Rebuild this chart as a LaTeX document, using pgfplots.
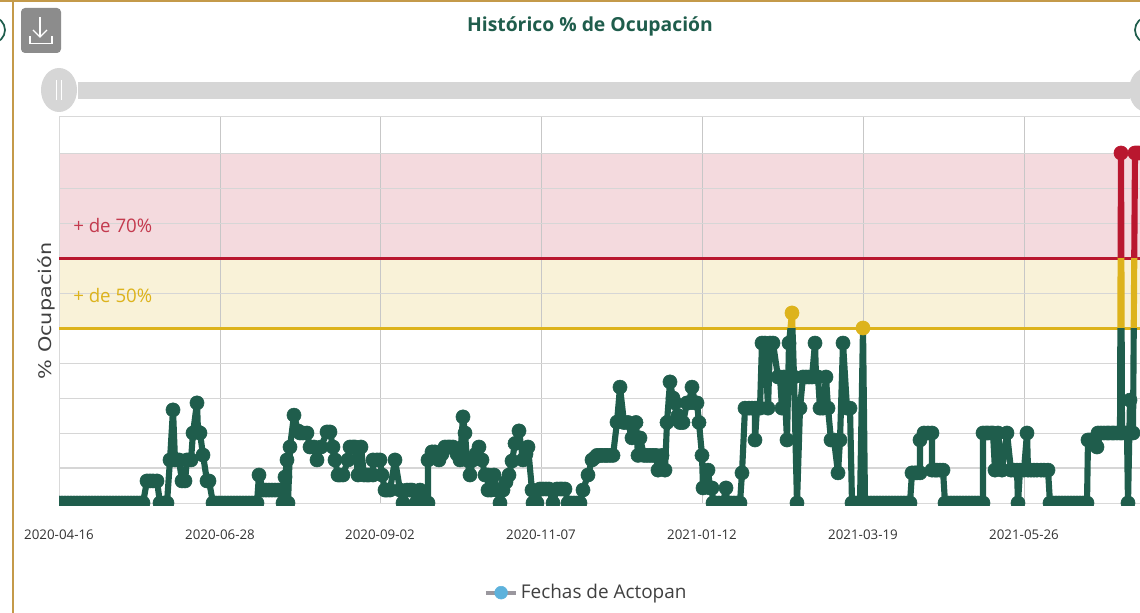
\documentclass[border=0pt]{standalone}
\usepackage{pgfplots}
\usepackage{pgfplotstable}
\usepackage{fontspec}
\setmainfont{Open Sans}
\newfontfamily\ylabfont{DejaVu Sans}
\pgfplotsset{compat=1.18}
\definecolor{dgreen}{HTML}{1F5D4C}
\definecolor{dred}{HTML}{B9172F}
\definecolor{dyel}{HTML}{DDB31C}
\definecolor{gold}{HTML}{C49A4A}
\definecolor{slider}{HTML}{D6D6D6}
\definecolor{legblue}{HTML}{5DB2DC}
\definecolor{leggrey}{HTML}{9A979E}
\pgfplotstableread{
x y
0 0
3 0
6 0
9 0
12 0
15 0
18 0
21 0
24 0
27 0
30 0
33 0
36 0
39 0
42 0
45 0
48 0
51 0
54 0
57 0
60 0
63 0
66 0
69 0
72 0
75 0
78 0
81 0
84 0
88 6.3
91 6.3
94 6.3
98 6.3
101 0
105 0
108 0
111 12.3
114 26.6
116 12.3
120 12.3
123 6.3
126 6.3
128 12.3
132 12.3
134 20
138 28.6
139 20.3
141 20
144 13.7
148 6.3
150 6.3
154 0
157 0
160 0
163 0
166 0
169 0
172 0
175 0
178 0
181 0
184 0
187 0
190 0
193 0
196 0
198 0
200 8
204 3.7
207 3.7
210 3.7
213 3.7
216 3.7
219 3.7
221 3.7
224 0
226 7.4
228 12.3
229 0
231 16
235 25.1
239 20.6
241 20
244 20
248 20
251 16
255 16
258 12.3
262 16
268 20.3
271 20.3
274 16
276 12.3
279 8
281 8
284 8
289 12.3
291 16
294 16
296 16
299 8
302 16
305 8
308 8
310 8
314 8
314 12.3
318 12.3
321 12.3
323 8
326 3.7
328 3.7
331 3.7
336 12.3
341 3.7
344 0
348 3.7
351 3.7
353 3.7
357 0
361 3.7
365 0
369 0
369 12.3
373 14.6
376 14.6
380 12.3
383 14
386 16
389 16
391 16
394 16
398 14
401 12.3
404 24.6
406 20
408 12.3
411 8
414 12.3
417 14
420 16
423 12.3
426 8
429 8
429 3.7
432 3.7
435 8
438 3.7
440 3.7
441 0
444 3.7
447 6
450 8
453 12
456 17
460 20.6
464 12.3
467 14
469 16
473 3.7
474 0
476 0
478 0
481 4
484 4
487 4
490 4
494 0
498 4
501 4
503 4
506 4
509 0
512 0
515 0
518 0
521 0
524 3.7
529 8
533 12.3
536 13
538 13.6
541 13.6
543 13.6
546 13.6
548 13.6
551 13.6
554 13.6
558 23.1
561 33.1
565 23
569 23
573 18.6
577 23
579 13.6
581 18.6
585 13.6
588 13.6
591 13.6
594 13.6
597 13.6
599 9.4
603 13.6
606 9.4
608 23
611 34.6
614 30
616 28.6
619 25
621 23
624 23
628 28.6
630 28.6
633 33.1
636 28.6
638 28.6
640 23
643 13.6
644 4.3
649 9.4
651 4.3
653 4.3
654 0
657 0
660 0
664 0
667 4.3
668 0
672 0
675 0
678 0
681 0
683 8.6
686 27.1
690 27.1
693 27.1
696 27.1
696 18
698 27.1
701 27.1
703 45.7
706 45.7
709 27.1
711 45.7
714 45.7
719 36
721 36
723 27.1
725 36
728 18
730 45.7
733 54.3
735 36
738 0
741 27.1
744 36
747 36
750 36
753 36
756 45.7
757 36
759 36
761 27.1
764 27.1
767 36
769 27.1
772 18
775 18
779 8.6
781 18
784 45.7
788 27.1
791 27.1
793 0
797 0
801 0
804 50
806 0
809 0
812 0
815 0
818 0
821 0
824 0
827 0
830 0
833 0
836 0
839 0
842 0
845 0
848 0
851 0
853 8.6
856 8.6
858 8.6
861 8.6
861 18
865 20
869 20
873 20
873 9.4
876 9.4
878 9.4
881 9.4
884 9.4
886 0
889 0
892 0
895 0
898 0
901 0
904 0
907 0
910 0
913 0
916 0
919 0
922 0
924 0
924 20
927 20
929 20
932 20
934 20
936 9.4
939 20
943 9.4
948 20
952 9.4
955 9.4
958 9.4
959 0
961 9.4
965 9.4
968 20
969 9.4
972 9.4
975 9.4
978 9.4
982 9.4
985 9.4
989 9.4
991 0
994 0
997 0
1000 0
1003 0
1006 0
1009 0
1012 0
1015 0
1018 0
1021 0
1024 0
1028 0
1029 18
1031 18
1033 18
1036 17
1038 16
1039 20
1042 20
1045 20
1048 20
1050 20
1053 20
1055 20
1058 20
1061 20
1062 100
1063 20
1066 20
1068 20
1069 0
1071 29.4
1074 20
1076 100
1078 100
1080 100
1085 100
}\datatable
\pgfplotsset{
  base/.style={scale only axis,width=810.75pt,xmin=0,xmax=1081},
  lineax/.style={base,hide axis,clip=true},
  ser/.style={line width=4.6pt,line join=round,no marks},
}
\begin{document}
\begin{tikzpicture}
\path[use as bounding box] (0,0) rectangle (855pt,-459.75pt);
\begin{scope}[x=0.75pt,y=-0.75pt]
  \fill[white] (0,0) rectangle (1140,613);
  \draw[gold,line width=1.9pt] (0,0.5) -- (1140,0.5);
  \draw[gold,line width=1.9pt] (13,0) -- (13,613);
  \draw[dgreen,line width=1.3pt] (-8,30) circle (13);
  \draw[dgreen,line width=1.3pt] (1148,30) circle (13);
  \fill[black!45,rounded corners=3pt] (21,8) rectangle (61,53);
  \draw[white,line width=1pt] (30,36) -- (30,43.5) -- (52,43.5) -- (52,36);
  \draw[white,line width=1pt] (40,17) -- (40,37);
  \draw[white,line width=1pt] (33,30) -- (40,37) -- (47,30);
  \fill[slider] (78,82) rectangle (1130,99);
  \fill[slider] (59,90) ellipse (18 and 22);
  \fill[slider] (1147,90) ellipse (18 and 22);
  \draw[white,line width=.6pt] (56,80) -- (56,100);
  \draw[white,line width=.6pt] (61,80) -- (61,100);
  \fill[dred!16!white] (59,153) rectangle (1140,258);
  \fill[dyel!17!white] (59,258) rectangle (1140,328);
  \node[text=dgreen,anchor=center,font=\bfseries\fontsize{14.5pt}{16pt}\selectfont] at (590,26) {Histórico \% de Ocupación};
  \node[text=black!75,rotate=90,xscale=1.2,anchor=center,font=\ylabfont\fontsize{13pt}{15pt}\selectfont] at (46,311) {\% Ocupación};
\end{scope}
% main axis: grid, thresholds, tick labels, legend
\begin{axis}[base,at={(44.25pt,-377.25pt)},anchor=south west,
  height=289.875pt,ymin=0,ymax=110.5,
  axis line style={draw=black!15,line width=.6pt},
  axis x line*=bottom,axis y line*=left,
  ytick={10,20,...,100},yticklabels={},
  xtick={0,161,321,482,643,804,965},
  xticklabels={2020-04-16,2020-06-28,2020-09-02,2020-11-07,2021-01-12,2021-03-19,2021-05-26},
  tick style={draw=none},
  grid=major,
  x grid style={black!22,line width=.6pt},
  y grid style={black!16,line width=.8pt},
  xticklabel style={font=\fontsize{10pt}{12pt}\selectfont,text=black!80,yshift=-16.5pt},
  legend style={at={(0.488,-0.232)},anchor=center,draw=none,fill=none,
    font=\fontsize{14.2pt}{16pt}\selectfont,text=black!75},
  legend image code/.code={
    \draw[#1,line width=3pt,mark=none] (0cm,0cm) -- (0.8cm,0cm);
    \fill[legblue] (0.4cm,0cm) circle (4.8pt);
  },
]
\addlegendimage{color=leggrey}
\addlegendentry{Fechas de Actopan}
\addplot[dred,line width=2.2pt,forget plot] coordinates {(0,70) (1081,70)};
\addplot[dyel,line width=2.2pt,forget plot] coordinates {(0,50) (1081,50)};
\end{axis}
\draw[black!15,line width=.6pt] (44.25pt,-87pt) -- (855pt,-87pt);
% green part of the line
\begin{axis}[lineax,at={(44.25pt,-378.825pt)},anchor=south west,height=132.825pt,ymin=-0.6,ymax=50]
\addplot[ser,dgreen] table[x=x,y=y] {\datatable};
\end{axis}
% yellow part of the line
\begin{axis}[lineax,at={(44.25pt,-246pt)},anchor=south west,height=52.5pt,ymin=50,ymax=70]
\addplot[ser,dyel] table[x=x,y=y] {\datatable};
\end{axis}
% red part of the line
\begin{axis}[lineax,at={(44.25pt,-193.5pt)},anchor=south west,height=106.3125pt,ymin=70,ymax=110.5]
\addplot[ser,dred] table[x=x,y=y] {\datatable};
\end{axis}
% markers
\begin{axis}[base,hide axis,clip=true,clip marker paths=true,at={(44.25pt,-378.825pt)},anchor=south west,width=813.75pt,xmax=1085,height=329.7pt,ymin=-0.6,ymax=125]
\addplot[only marks,mark=*,mark size=5.3pt,dgreen,restrict y to domain=0:49.9] table[x=x,y=y] {\datatable};
\addplot[only marks,mark=*,mark size=5.3pt,dyel,restrict y to domain=50:69.9] table[x=x,y=y] {\datatable};
\addplot[only marks,mark=*,mark size=5.3pt,dred,restrict y to domain=70:111] table[x=x,y=y] {\datatable};
\end{axis}
\begin{scope}[x=0.75pt,y=-0.75pt]
  \node[text=dred!85!white,anchor=west,inner sep=0,font=\fontsize{14pt}{15pt}\selectfont] at (73,226) {+ de 70\%};
  \node[text=dyel,anchor=west,inner sep=0,font=\fontsize{14pt}{15pt}\selectfont] at (73,296) {+ de 50\%};
\end{scope}
\end{tikzpicture}
\end{document}
